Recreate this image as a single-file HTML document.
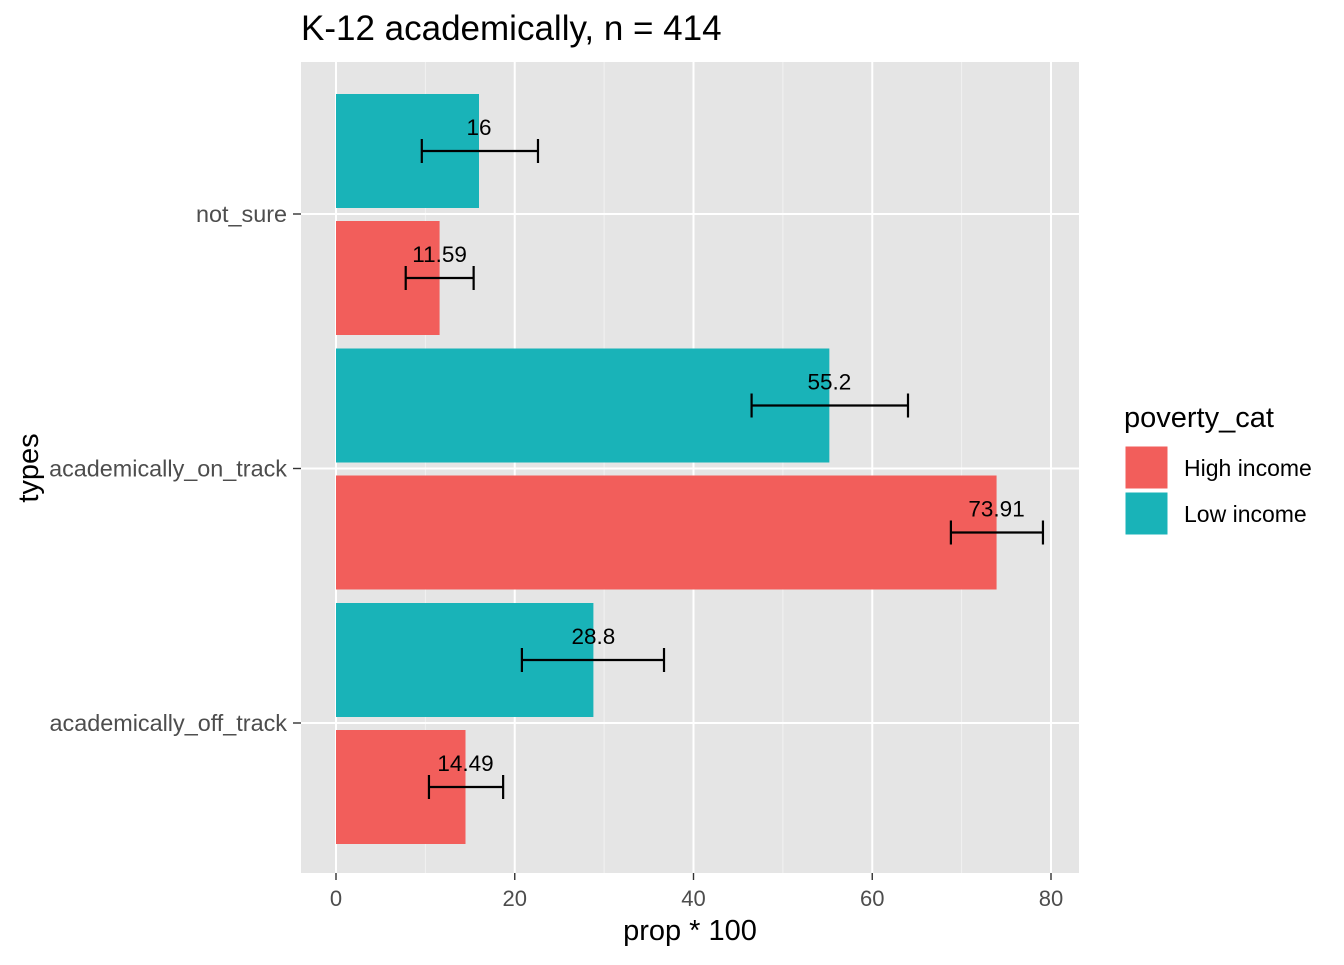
<!DOCTYPE html>
<html><head><meta charset="utf-8"><style>
body{margin:0;background:#fff;}
svg text{font-family:"Liberation Sans",Arial,sans-serif;}
</style></head><body>
<svg id="chart" width="1344" height="960" xmlns="http://www.w3.org/2000/svg">
<text x="301" y="40" font-size="35" fill="#000">K-12 academically, n = 414</text>
<rect x="301" y="62" width="778" height="811" fill="#e5e5e5"/>
<g id="grid"></g>
<g id="bars"></g>
<g id="axes"></g>
<text x="690" y="940" font-size="29" text-anchor="middle" fill="#000">prop * 100</text>
<text transform="translate(38,468) rotate(-90)" font-size="29" text-anchor="middle" fill="#000">types</text>
<g>
<text x="1124" y="427" font-size="29" fill="#000">poverty_cat</text>
<rect x="1125" y="446" width="43" height="43" fill="#f25e5b" stroke="#fff"/>
<text x="1184" y="476" font-size="23" fill="#000">High income</text>
<rect x="1125" y="492" width="43" height="43" fill="#19b3b8" stroke="#fff"/>
<text x="1184" y="522" font-size="23" fill="#000">Low income</text>
</g>
</svg>
<script>
const categories=["academically_off_track","academically_on_track","not_sure"];
const highVals=[14.49,73.91,11.59];
const lowVals=[28.8,55.2,16];
const highLo=[10.4,68.8,7.8];
const highHi=[18.7,79.1,15.4];
const lowLo=[20.8,46.5,9.6];
const lowHi=[36.7,64.0,22.6];
const xTicks=[0,20,40,60,80];
const NS="http://www.w3.org/2000/svg";
const x=v=>336+v*(1051-336)/80;
const y=i=>723-i*254.5;
function mk(tag,attrs,parent){const e=document.createElementNS(NS,tag);for(const k in attrs)e.setAttribute(k,attrs[k]);document.getElementById(parent).appendChild(e);return e;}
[10,30,50,70].forEach(v=>{const l=mk('line',{x1:x(v),x2:x(v),y1:62,y2:873,stroke:'#f2f2f2','stroke-width':1},'grid');

});
xTicks.forEach(v=>{const l=mk('line',{x1:x(v),x2:x(v),y1:62,y2:873,stroke:'#fff','stroke-width':2},'grid');


const t=mk('line',{x1:x(v),x2:x(v),y1:873,y2:880,stroke:'#333','stroke-width':1.4},'axes');


const tx=mk('text',{x:x(v),y:906,'font-size':22,'text-anchor':'middle',fill:'#4d4d4d'},'axes');tx.textContent=v;

});
categories.forEach((c,i)=>{const l=mk('line',{x1:301,x2:1079,y1:y(i),y2:y(i),stroke:'#fff','stroke-width':2},'grid');


const t=mk('line',{x1:293,x2:301,y1:y(i),y2:y(i),stroke:'#333','stroke-width':1.4},'axes');


const tx=mk('text',{x:287,y:y(i)+8,'font-size':23.4,'text-anchor':'end',fill:'#4d4d4d'},'axes');tx.textContent=c;

});
function series(vals,lo,hi,color,off0,off1,name){
 categories.forEach((c,i)=>{
  const top=y(i)+off0,bot=y(i)+off1,cy=(top+bot)/2;
  const r=mk('rect',{x:x(0),y:top,width:x(vals[i])-x(0),height:bot-top,fill:color},'bars');
  
  
  const g=mk('path',{d:`M${x(lo[i])},${cy}H${x(hi[i])}M${x(lo[i])},${cy-12}V${cy+12}M${x(hi[i])},${cy-12}V${cy+12}`,stroke:'#000','stroke-width':2.2,fill:'none'},'bars');
  
  
  const t=mk('text',{x:x(vals[i]),y:cy-16,'font-size':22.5,'text-anchor':'middle',fill:'#000'},'bars');t.textContent=vals[i];
  
  
 });
}
series(lowVals,lowLo,lowHi,'#19b3b8',-120,-6,'low');
series(highVals,highLo,highHi,'#f25e5b',7,121,'high');
</script>
</body></html>
